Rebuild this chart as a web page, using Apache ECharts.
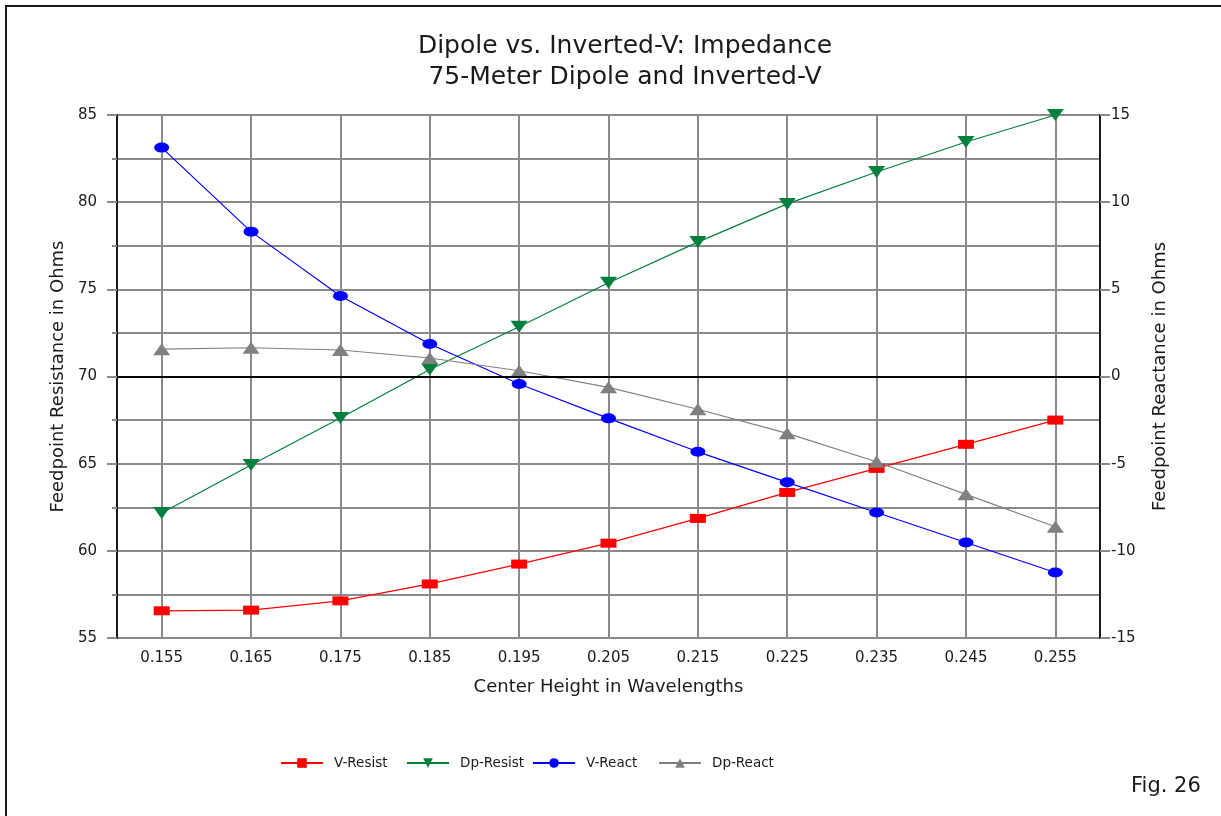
<!DOCTYPE html>
<html>
<head>
<meta charset="utf-8">
<title>Dipole vs. Inverted-V: Impedance</title>
<script src="https://cdn.jsdelivr.net/npm/echarts@6/dist/echarts.min.js"></script>
<style>
  html, body { margin: 0; padding: 0; background: #fff; }
  #chart { width: 1221px; height: 816px; }
</style>
</head>
<body>
<div id="chart"></div>
<script>
// Center height of the antenna, in wavelengths
const heights = ['0.155', '0.165', '0.175', '0.185', '0.195', '0.205', '0.215', '0.225', '0.235', '0.245', '0.255'];

// Feedpoint resistance (ohms), left axis
const vResist  = [56.56, 56.6, 57.13, 58.1, 59.24, 60.44, 61.86, 63.35, 64.73, 66.11, 67.5];
const dpResist = [62.17, 64.92, 67.62, 70.4, 72.85, 75.38, 77.71, 79.9, 81.73, 83.45, 85.0];

// Feedpoint reactance (ohms), right axis
const vReact  = [13.13, 8.31, 4.62, 1.86, -0.43, -2.4, -4.32, -6.07, -7.8, -9.52, -11.24];
const dpReact = [1.57, 1.65, 1.52, 1.06, 0.33, -0.62, -1.88, -3.26, -4.89, -6.76, -8.62];

const seriesNames = ['V-Resist', 'Dp-Resist', 'V-React', 'Dp-React'];

const FONT = 'DejaVu Sans';
const GRID_GRAY = '#8a8a8a';
const AXIS_DARK = '#1a1a1a';
const TEXT = '#1a1a1a';

const chart = echarts.init(document.getElementById('chart'), null, { renderer: 'canvas' });

const downTriangle = 'path://M0,0L10,0L5,10Z';

// One legend block per series so the entries sit on an even pitch
const legendPitch = 126;
const legends = seriesNames.map((name, i) => ({
  left: 280 + i * legendPitch,
  top: 756,
  padding: 0,
  itemWidth: 42,
  itemHeight: 12,
  itemGap: 0,
  textStyle: { fontFamily: FONT, fontSize: 13.5, color: TEXT, padding: [0, 0, 0, 6] },
  data: [name]
}));

chart.setOption({
  backgroundColor: '#ffffff',
  animation: false,
  textStyle: { fontFamily: FONT, color: TEXT },
  title: {
    text: 'Dipole vs. Inverted-V: Impedance\n75-Meter Dipole and Inverted-V',
    left: 620,
    top: 26,
    textAlign: 'center',
    textStyle: { fontFamily: FONT, fontSize: 25, fontWeight: 'normal', color: TEXT, lineHeight: 31 }
  },
  graphic: [
    {
      type: 'rect',
      shape: { x: 6, y: 6, width: 1400, height: 1000 },
      style: { fill: 'none', stroke: AXIS_DARK, lineWidth: 2 },
      silent: true
    },
    {
      type: 'text',
      left: 1131,
      top: 776,
      style: { text: 'Fig. 26', fontFamily: FONT, fontSize: 21, fill: TEXT }
    }
  ],
  legend: legends,
  grid: {
    left: 117,
    right: 121,
    top: 115,
    bottom: 178,
    show: true,
    borderColor: AXIS_DARK,
    borderWidth: 2
  },
  xAxis: {
    type: 'category',
    data: heights,
    boundaryGap: true,
    name: 'Center Height in Wavelengths',
    nameLocation: 'middle',
    nameGap: 40,
    nameTextStyle: { fontFamily: FONT, fontSize: 18, color: TEXT },
    axisLine: { lineStyle: { color: AXIS_DARK, width: 2 } },
    axisTick: { alignWithLabel: true, length: 6, lineStyle: { color: GRID_GRAY, width: 2 } },
    axisLabel: { fontFamily: FONT, fontSize: 15, color: TEXT, margin: 13 },
    splitLine: { show: true, alignWithLabel: true, lineStyle: { color: GRID_GRAY, width: 2 } }
  },
  yAxis: [
    {
      type: 'value',
      min: 55,
      max: 85,
      interval: 5,
      position: 'left',
      name: 'Feedpoint Resistance in Ohms',
      nameLocation: 'middle',
      nameGap: 46,
      nameTextStyle: { fontFamily: FONT, fontSize: 18, color: TEXT },
      axisLine: { show: true, lineStyle: { color: AXIS_DARK, width: 2 } },
      axisTick: { show: true, length: 10, lineStyle: { color: GRID_GRAY, width: 2 } },
      minorTick: { show: true, splitNumber: 2, length: 5, lineStyle: { color: GRID_GRAY, width: 2 } },
      axisLabel: { fontFamily: FONT, fontSize: 15, color: TEXT, margin: 20 },
      splitLine: { show: true, lineStyle: { color: GRID_GRAY, width: 2 } },
      minorSplitLine: { show: true, lineStyle: { color: GRID_GRAY, width: 2 } }
    },
    {
      type: 'value',
      min: -15,
      max: 15,
      interval: 5,
      position: 'right',
      name: 'Feedpoint Reactance in Ohms',
      nameLocation: 'middle',
      nameGap: 51,
      nameTextStyle: { fontFamily: FONT, fontSize: 18, color: TEXT },
      axisLine: { show: true, lineStyle: { color: AXIS_DARK, width: 2 } },
      axisTick: { show: true, length: 10, lineStyle: { color: GRID_GRAY, width: 2 } },
      axisLabel: { fontFamily: FONT, fontSize: 15, color: TEXT, margin: 11 },
      splitLine: { show: false }
    }
  ],
  series: [
    {
      name: seriesNames[0],
      type: 'line',
      yAxisIndex: 0,
      data: vResist,
      color: '#ff0000',
      symbol: 'rect',
      symbolSize: [16, 9],
      lineStyle: { width: 1.2 },
      markLine: {
        silent: true,
        symbol: 'none',
        label: { show: false },
        lineStyle: { color: '#000000', width: 2, type: 'solid' },
        data: [{ yAxis: 70 }]
      }
    },
    {
      name: seriesNames[1],
      type: 'line',
      yAxisIndex: 0,
      data: dpResist,
      color: '#00803c',
      symbol: downTriangle,
      symbolSize: [17, 12],
      lineStyle: { width: 1.2 }
    },
    {
      name: seriesNames[2],
      type: 'line',
      yAxisIndex: 1,
      data: vReact,
      color: '#0000ff',
      symbol: 'circle',
      symbolSize: [15, 10],
      lineStyle: { width: 1.2 }
    },
    {
      name: seriesNames[3],
      type: 'line',
      yAxisIndex: 1,
      data: dpReact,
      color: '#808080',
      symbol: 'triangle',
      symbolSize: [17, 12],
      lineStyle: { width: 1.2 }
    }
  ]
});
</script>
</body>
</html>
